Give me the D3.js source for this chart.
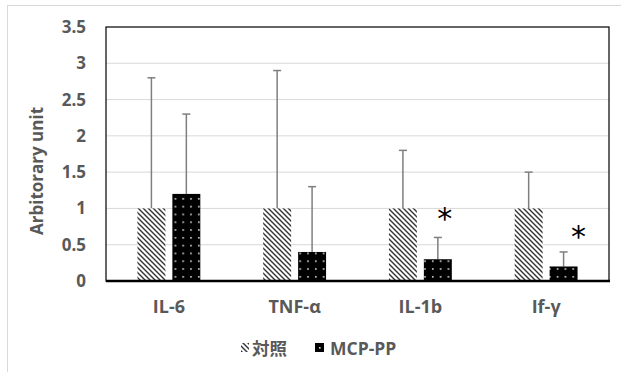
<!DOCTYPE html>
<html><head><meta charset="utf-8">
<script src="https://cdn.jsdelivr.net/npm/d3@7"></script>
<style>body{margin:0;background:#fff}</style>
</head><body>
<svg id="c" width="621" height="372"></svg>
<script>
const categories = ["IL-6", "TNF-α", "IL-1b", "If-γ"];
const seriesNames = ["対照", "MCP-PP"];
const controlValues = [1, 1, 1, 1];
const controlErrors = [1.8, 1.9, 0.8, 0.5];
const mcpValues = [1.2, 0.4, 0.3, 0.2];
const mcpErrors = [1.1, 0.9, 0.3, 0.2];
const yTicks = [0, 0.5, 1, 1.5, 2, 2.5, 3, 3.5];
const yTickLabels = ["0", "0.5", "1", "1.5", "2", "2.5", "3", "3.5"];
const starCats = ["IL-1b", "If-γ"];
const starValues = [0.91, 0.66];
const starOffsets = [7, 15];

const svg = d3.select("#c");
const L = 106, R = 609, T = 27, B = 281;
const grey = "#595959";
const FONT = "'Open Sans', 'Noto Sans CJK JP', sans-serif";

function txt(sel, size, family){
  return sel.style("font-family", family || FONT).style("font-size", size+"px")
    .style("font-weight","bold").style("fill", grey);
}

const defs = svg.append("defs");
const hatch = defs.append("pattern").attr("id","hatch").attr("patternUnits","userSpaceOnUse")
  .attr("width",5).attr("height",5);
hatch.append("rect").attr("width",5).attr("height",5).attr("fill","#fff");
hatch.append("path").attr("d","M-1,-1 L6,6 M-1,4 L1,6 M4,-1 L6,1").attr("stroke","#333").attr("stroke-width",1.4);
const dots = defs.append("pattern").attr("id","dots").attr("patternUnits","userSpaceOnUse")
  .attr("width",7.8).attr("height",7.8);
dots.append("rect").attr("width",7.8).attr("height",7.8).attr("fill","#000");
dots.append("rect").attr("x",3).attr("y",3).attr("width",1.6).attr("height",1.6).attr("fill","#ddd");

// outer chart border
svg.append("rect").attr("x",7.5).attr("y",5.5).attr("width",800).attr("height",500)
  .attr("fill","none").attr("stroke","#d9d9d9");

const y = d3.scaleLinear().domain([0,3.5]).range([B,T]);
const x0 = d3.scaleBand().domain(categories).range([L,R]).paddingInner(0.5).paddingOuter(0.25);
const x1 = d3.scaleBand().domain(seriesNames).range([0,x0.bandwidth()]).paddingInner(0.2);

// gridlines
svg.append("g").selectAll("line").data(yTicks.filter(d=>d>0 && d<3.5)).join("line")
  .attr("x1",L).attr("x2",R).attr("y1",d=>y(d)).attr("y2",d=>y(d))
  .attr("stroke","#d9d9d9").attr("stroke-width",1);

// y axis labels
const yAxis = d3.axisLeft(y).tickValues(yTicks).tickFormat((d,i)=>yTickLabels[i]).tickSize(0).tickPadding(20);
const ya = svg.append("g").attr("transform",`translate(${L},0)`).call(yAxis);
ya.select(".domain").remove();
txt(ya.selectAll("text"), 17);

// plot border
svg.append("rect").attr("x",L).attr("y",T).attr("width",R-L).attr("height",B-T)
  .attr("fill","none").attr("stroke","#000").attr("stroke-width",1.2);

const data = seriesNames.map((s,si)=>categories.map((c,i)=>({
  cat:c, s, v: si===0?controlValues[i]:mcpValues[i], e: si===0?controlErrors[i]:mcpErrors[i]})));

// error bars
const eb = svg.append("g");
data.flat().forEach(d=>{
  const cx = x0(d.cat)+x1(d.s)+x1.bandwidth()/2;
  eb.append("line").attr("x1",cx).attr("x2",cx).attr("y1",y(d.v)).attr("y2",y(d.v+d.e))
    .attr("stroke","#7f7f7f").attr("stroke-width",1.5);
  eb.append("line").attr("x1",cx-4).attr("x2",cx+4).attr("y1",y(d.v+d.e)).attr("y2",y(d.v+d.e))
    .attr("stroke","#7f7f7f").attr("stroke-width",1.5);
});

// bars
svg.append("g").selectAll("rect").data(data.flat()).join("rect")
  .attr("x",d=>x0(d.cat)+x1(d.s)).attr("width",x1.bandwidth())
  .attr("y",d=>y(d.v)).attr("height",d=>y(0)-y(d.v))
  .attr("fill",d=>d.s===seriesNames[0]?"url(#hatch)":"url(#dots)");

// x axis line
svg.append("line").attr("x1",L).attr("x2",R+1).attr("y1",B).attr("y2",B).attr("stroke","#000").attr("stroke-width",2.5);

// category labels
const xAxis = d3.axisBottom(x0).tickSize(0).tickPadding(19);
const xa = svg.append("g").attr("transform",`translate(0,${B})`).call(xAxis);
xa.select(".domain").remove();
txt(xa.selectAll("text"), 18);

// stars
svg.append("g").selectAll("text").data(starCats).join("text")
  .attr("x",(c,i)=>x0(c)+x1(seriesNames[1])+x1.bandwidth()/2+starOffsets[i])
  .attr("y",(c,i)=>y(starValues[i])+14)
  .attr("text-anchor","middle")
  .style("font-family","'DejaVu Sans'").style("font-size","30px").style("fill","#000")
  .text("*");

// y title
txt(svg.append("text").attr("transform",`translate(43,${(T+B)/2 + 17}) rotate(-90)`)
  .attr("text-anchor","middle"), 17).text("Arbitorary unit");

// legend
const lg = svg.append("g");
lg.append("rect").attr("x",241).attr("y",343).attr("width",8).attr("height",9).attr("fill","url(#hatch)");
txt(lg.append("text").attr("x",252).attr("y",355), 17.5, "'Noto Sans CJK JP'").text(seriesNames[0]);
lg.append("rect").attr("x",315).attr("y",343).attr("width",9).attr("height",9).attr("fill","#000");
lg.append("rect").attr("x",319).attr("y",347).attr("width",1.6).attr("height",1.6).attr("fill","#ddd");
txt(lg.append("text").attr("x",330).attr("y",355), 17.5).text(seriesNames[1]);
</script>
</body></html>
